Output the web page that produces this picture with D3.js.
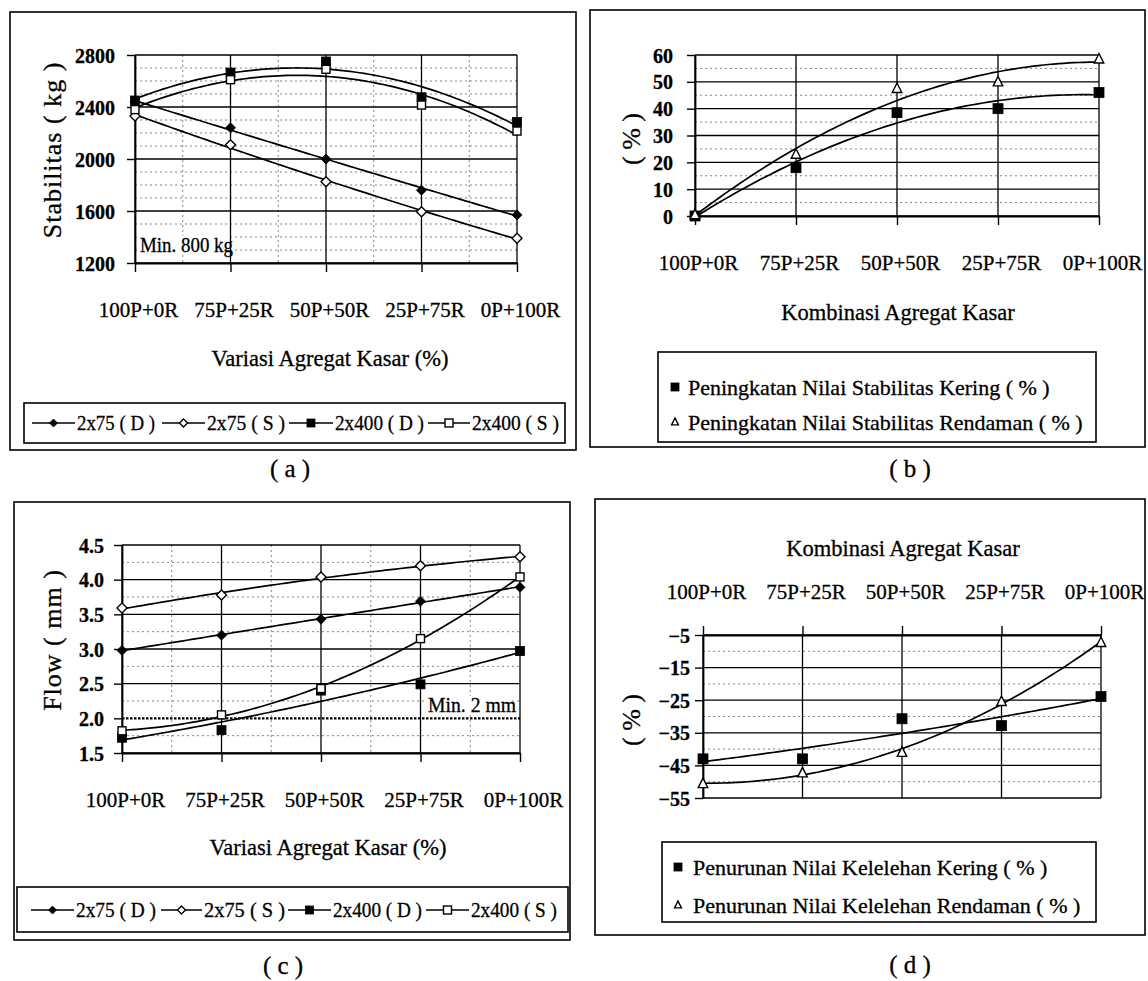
<!DOCTYPE html>
<html>
<head>
<meta charset="utf-8">
<script src="https://cdn.jsdelivr.net/npm/d3@7"></script>
<style>
  body { margin: 0; background: #fff; }
  svg text { font-family: "Liberation Serif", "Times New Roman", serif; fill: #000; stroke: #000; stroke-width: 0.3px; }
</style>
</head>
<body>
<script>
// ---- data ---------------------------------------------------------------
const categories = ["100P+0R", "75P+25R", "50P+50R", "25P+75R", "0P+100R"];

// (a) Stabilitas (kg)
const stabTicks = [1200, 1600, 2000, 2400, 2800];
const stab2x75D = [2440, 2240, 2000, 1760, 1570];
const stab2x75S = [2330, 2110, 1825, 1595, 1390];
const stab2x400D = [2450, 2665, 2750, 2475, 2285];
const stab2x400S = [2380, 2610, 2690, 2415, 2215];

// (b) Peningkatan nilai stabilitas (%)
const upTicks = [0, 10, 20, 30, 40, 50, 60];
const stabKering = [0, 18, 38.5, 40, 46];
const stabRendaman = [0.5, 23, 47.5, 50, 58.5];

// (c) Flow (mm)
const flowTicks = [1.5, 2.0, 2.5, 3.0, 3.5, 4.0, 4.5];
const flow2x75D = [2.98, 3.2, 3.43, 3.69, 3.89];
const flow2x75S = [3.59, 3.78, 4.04, 4.2, 4.33];
const flow2x400D = [1.72, 1.83, 2.4, 2.49, 2.97];
const flow2x400S = [1.82, 2.05, 2.43, 3.15, 4.04];

// (d) Penurunan nilai kelelehan (%)
const downTicks = [-55, -45, -35, -25, -15, -5];
const flowKering = [-43, -43, -30.7, -32.8, -23.9];
const flowRendaman = [-50.6, -47.3, -41, -25.4, -7.3];

const mixNames = ["2x75 ( D )", "2x75 ( S )", "2x400 ( D )", "2x400 ( S )"];
const upNames = ["Peningkatan Nilai Stabilitas Kering ( % )", "Peningkatan Nilai Stabilitas Rendaman ( % )"];
const downNames = ["Penurunan Nilai Kelelehan Kering ( % )", "Penurunan Nilai Kelelehan Rendaman ( % )"];

const minStab = "Min. 800 kg";
const minFlow = { value: 2.0, label: "Min. 2 mm" };

// ---- helpers ------------------------------------------------------------
const svg = d3.select("body").append("svg")
  .attr("width", 1148).attr("height", 981).style("display", "block");

// least-squares 2nd order polynomial trend over category index 0..n-1
function quadFit(vals) {
  const S = [0, 0, 0, 0, 0], T = [0, 0, 0];
  vals.forEach((v, t) => {
    for (let k = 0; k < 5; k++) S[k] += t ** k;
    for (let k = 0; k < 3; k++) T[k] += v * t ** k;
  });
  const M = [[S[0], S[1], S[2]], [S[1], S[2], S[3]], [S[2], S[3], S[4]]];
  const det = m => m[0][0] * (m[1][1] * m[2][2] - m[1][2] * m[2][1])
    - m[0][1] * (m[1][0] * m[2][2] - m[1][2] * m[2][0])
    + m[0][2] * (m[1][0] * m[2][1] - m[1][1] * m[2][0]);
  const D = det(M);
  const c = [0, 1, 2].map(j => det(M.map((row, r) => row.map((v, k) => k === j ? T[r] : v))) / D);
  return t => c[0] + c[1] * t + c[2] * t * t;
}

function marker(sel, type, cx, cy, r) {
  const filled = type.endsWith("Filled");
  let el;
  if (type.startsWith("diamond")) {
    el = sel.append("path").attr("d", `M${cx},${cy - r}L${cx + r},${cy}L${cx},${cy + r}L${cx - r},${cy}Z`);
  } else if (type.startsWith("square")) {
    el = sel.append("rect").attr("x", cx - r).attr("y", cy - r).attr("width", 2 * r).attr("height", 2 * r);
  } else {
    el = sel.append("path").attr("d", `M${cx},${cy - r * 1.1}L${cx + r * 0.95},${cy + r * 0.8}L${cx - r * 0.95},${cy + r * 0.8}Z`);
  }
  el.attr("fill", filled ? "#000" : "#fff").attr("stroke", "#000").attr("stroke-width", filled ? 0.8 : 1.4);
}

function frame(b) {
  svg.append("rect").attr("x", b[0]).attr("y", b[1])
    .attr("width", b[2] - b[0]).attr("height", b[3] - b[1])
    .attr("fill", "none").attr("stroke", "#000").attr("stroke-width", 1.6);
}

function drawPanel(p) {
  frame(p.box);
  const g = svg.append("g");
  const x = d3.scalePoint().domain(categories).range([p.left, p.right]);
  const xt = d3.scaleLinear().domain([0, categories.length - 1]).range([p.left, p.right]);
  const y = d3.scaleLinear().domain(d3.extent(p.ticks)).range([p.bottom, p.top]);

  // minor gridlines
  const minor = [];
  for (let i = 0; i + 1 < p.ticks.length; i++) {
    const a = p.ticks[i], b = p.ticks[i + 1];
    const n = Math.round((b - a) / p.minorStep);
    for (let k = 1; k < n; k++) minor.push(a + k * p.minorStep);
  }
  g.append("g").selectAll("line").data(minor).join("line")
    .attr("x1", p.left).attr("x2", p.right)
    .attr("y1", d => y(d)).attr("y2", d => y(d))
    .attr("stroke", "#666").attr("stroke-width", 0.8).attr("stroke-dasharray", "2,3");
  if (p.vMinor) {
    g.append("g").selectAll("line").data(d3.range(categories.length - 1)).join("line")
      .attr("x1", i => xt(i + 0.5)).attr("x2", i => xt(i + 0.5))
      .attr("y1", p.top).attr("y2", p.bottom)
      .attr("stroke", "#666").attr("stroke-width", 0.8).attr("stroke-dasharray", "2,3");
  }
  // major gridlines
  g.append("g").selectAll("line")
    .data(p.ticks.filter(v => !(p.threshold && v === p.threshold.value))).join("line")
    .attr("x1", p.left).attr("x2", p.right)
    .attr("y1", d => y(d)).attr("y2", d => y(d))
    .attr("stroke", "#000").attr("stroke-width", 1.3);
  g.append("g").selectAll("line").data(categories).join("line")
    .attr("x1", d => x(d)).attr("x2", d => x(d))
    .attr("y1", p.top).attr("y2", p.bottom)
    .attr("stroke", "#000").attr("stroke-width", 1.3);

  // threshold line
  if (p.threshold) {
    g.append("line").attr("x1", p.left).attr("x2", p.right)
      .attr("y1", y(p.threshold.value)).attr("y2", y(p.threshold.value))
      .attr("stroke", "#000").attr("stroke-width", 2.2).attr("stroke-dasharray", "2.5,1.5");
  }

  // axes
  const ya = g.append("g").attr("transform", `translate(${p.left},0)`)
    .call(d3.axisLeft(y).tickValues(p.ticks).tickSize(8).tickSizeOuter(0)
      .tickPadding(p.yPad).tickFormat(p.fmt));
  const xAxis = p.xTop ? d3.axisTop(x) : d3.axisBottom(x);
  const axisY = p.xTop ? p.top : p.bottom;
  const xa = g.append("g").attr("transform", `translate(0,${axisY})`)
    .call(xAxis.tickSize(9).tickSizeOuter(0));
  [ya, xa].forEach(a => {
    a.attr("font-family", null).attr("font-size", null);
    a.select(".domain").attr("stroke", "#000").attr("stroke-width", 1.8);
    a.selectAll(".tick line").attr("stroke", "#000").attr("stroke-width", 1.4);
  });
  ya.selectAll("text").attr("font-size", 20).attr("font-weight", "bold").attr("dy", "0.35em");
  xa.selectAll("text").attr("font-size", 21).attr("y", p.xLabelY - axisY)
    .attr("dy", "0.35em").attr("dx", 3);

  // axis titles
  g.append("text").attr("x", p.xTitle[0]).attr("y", p.xTitle[1])
    .attr("text-anchor", "middle").attr("dominant-baseline", "central")
    .attr("font-size", 22.5).text(p.xTitleText);
  g.append("text")
    .attr("transform", `translate(${p.yTitle[0]},${p.yTitle[1]}) rotate(-90)`)
    .attr("text-anchor", "middle").attr("dominant-baseline", "central")
    .attr("font-size", 26).attr("letter-spacing", p.yTitleSpacing || 0).text(p.yTitleText);

  // note labels with white backing
  (p.notes || []).forEach(n => {
    g.append("rect").attr("x", n.x - 1).attr("y", n.y - 9).attr("width", n.w - 4).attr("height", 18)
      .attr("fill", "#fff");
    g.append("text").attr("x", n.x).attr("y", n.y).attr("dominant-baseline", "central")
      .attr("font-size", 20).attr("textLength", n.w).attr("lengthAdjust", "spacingAndGlyphs")
      .text(n.text);
  });

  // trend curves then markers
  const ts = d3.range(0, categories.length - 1 + 1e-9, 0.05);
  p.series.forEach(s => {
    const f = quadFit(s.values);
    g.append("path").datum(ts)
      .attr("d", d3.line().x(t => xt(t)).y(t => y(f(t))))
      .attr("fill", "none").attr("stroke", "#000").attr("stroke-width", 1.7);
  });
  p.series.forEach(s => {
    s.values.forEach((v, i) => marker(g, s.type, x(categories[i]), y(v), s.r));
  });
}

// legend with a line sample through each marker
function lineLegend(box, cy, items) {
  frame(box);
  items.forEach(it => {
    svg.append("line").attr("x1", it.x0).attr("x2", it.x1).attr("y1", cy).attr("y2", cy)
      .attr("stroke", "#000").attr("stroke-width", 1.5);
    marker(svg, it.type, (it.x0 + it.x1) / 2, cy, 4);
    svg.append("text").attr("x", it.tx).attr("y", cy).attr("dominant-baseline", "central")
      .attr("font-size", 21).attr("textLength", it.tw).attr("lengthAdjust", "spacingAndGlyphs")
      .text(it.name);
  });
}

// legend with marker only
function markLegend(box, rows, mx, tx) {
  frame(box);
  rows.forEach(r => {
    marker(svg, r.type, mx, r.y, r.type.startsWith("square") ? 4 : 3.6);
    svg.append("text").attr("x", tx).attr("y", r.y).attr("dominant-baseline", "central")
      .attr("font-size", 22).text(r.name);
  });
}

function caption(txt, cx, cy) {
  svg.append("text").attr("x", cx).attr("y", cy).attr("text-anchor", "middle")
    .attr("dominant-baseline", "central").attr("font-size", 25).text(txt);
}

const fmtInt = d3.format("d");
const fmt1 = d3.format(".1f");
const mixTypes = ["diamondFilled", "diamondOpen", "squareFilled", "squareOpen"];

// ---- (a) ----------------------------------------------------------------
drawPanel({
  box: [10, 12, 576, 450],
  left: 135, right: 517, top: 55, bottom: 263,
  ticks: stabTicks, minorStep: 100, vMinor: true, fmt: fmtInt, yPad: 12,
  xLabelY: 310, xTitle: [330, 358], xTitleText: "Variasi Agregat Kasar (%)",
  yTitle: [52, 150], yTitleText: "Stabilitas ( kg )", yTitleSpacing: 1,
  notes: [{ x: 140, y: 245, w: 93, text: minStab }],
  series: [
    { values: stab2x75D, type: mixTypes[0], r: 5 },
    { values: stab2x75S, type: mixTypes[1], r: 5 },
    { values: stab2x400D, type: mixTypes[2], r: 4.5 },
    { values: stab2x400S, type: mixTypes[3], r: 4 }
  ]
});
lineLegend([24, 403, 565, 443], 423, [
  { x0: 32, x1: 75, tx: 77, tw: 78 },
  { x0: 162, x1: 205, tx: 207, tw: 78 },
  { x0: 289, x1: 333, tx: 335, tw: 89 },
  { x0: 428, x1: 470, tx: 472, tw: 87 }
].map((d, i) => ({ ...d, type: mixTypes[i], name: mixNames[i] })));
caption("( a )", 290, 468);

// ---- (b) ----------------------------------------------------------------
drawPanel({
  box: [590, 10, 1145, 447],
  left: 695, right: 1099, top: 55, bottom: 216,
  ticks: upTicks, minorStep: 5, vMinor: false, fmt: fmtInt, yPad: 14,
  xLabelY: 263, xTitle: [898, 312], xTitleText: "Kombinasi Agregat  Kasar",
  yTitle: [631, 139], yTitleText: "( % )",
  series: [
    { values: stabKering, type: "squareFilled", r: 5 },
    { values: stabRendaman, type: "triangleOpen", r: 5 }
  ]
});
markLegend([658, 352, 1096, 442], [
  { y: 387, type: "squareFilled", name: upNames[0] },
  { y: 422, type: "triangleOpen", name: upNames[1] }
], 675, 688);
caption("( b )", 910, 468);

// ---- (c) ----------------------------------------------------------------
drawPanel({
  box: [14, 502, 570, 940],
  left: 122, right: 520, top: 545, bottom: 753,
  ticks: flowTicks, minorStep: 0.25, vMinor: true, fmt: fmt1, yPad: 10,
  xLabelY: 800, xTitle: [328, 847], xTitleText: "Variasi Agregat Kasar (%)",
  yTitle: [52, 640], yTitleText: "Flow ( mm )", yTitleSpacing: 1,
  threshold: minFlow,
  notes: [{ x: 428, y: 705, w: 88, text: minFlow.label }],
  series: [
    { values: flow2x75D, type: mixTypes[0], r: 5 },
    { values: flow2x75S, type: mixTypes[1], r: 5 },
    { values: flow2x400D, type: mixTypes[2], r: 4.5 },
    { values: flow2x400S, type: mixTypes[3], r: 4 }
  ]
});
lineLegend([17, 887, 568, 932], 910, [
  { x0: 31, x1: 74, tx: 76, tw: 80 },
  { x0: 161, x1: 202, tx: 204, tw: 81 },
  { x0: 288, x1: 331, tx: 333, tw: 89 },
  { x0: 426, x1: 469, tx: 471, tw: 86 }
].map((d, i) => ({ ...d, type: mixTypes[i], name: mixNames[i] })));
caption("( c )", 283, 965);

// ---- (d) ----------------------------------------------------------------
drawPanel({
  box: [595, 499, 1145, 935],
  left: 703, right: 1101, top: 635, bottom: 798,
  ticks: downTicks, minorStep: 5, vMinor: false, fmt: fmtInt, yPad: 5, xTop: true,
  xLabelY: 592, xTitle: [903, 548], xTitleText: "Kombinasi Agregat  Kasar",
  yTitle: [631, 720], yTitleText: "( % )",
  series: [
    { values: flowKering, type: "squareFilled", r: 5 },
    { values: flowRendaman, type: "triangleOpen", r: 5 }
  ]
});
markLegend([662, 842, 1096, 922], [
  { y: 867, type: "squareFilled", name: downNames[0] },
  { y: 905, type: "triangleOpen", name: downNames[1] }
], 678, 693);
caption("( d )", 910, 964);
</script>
</body>
</html>
